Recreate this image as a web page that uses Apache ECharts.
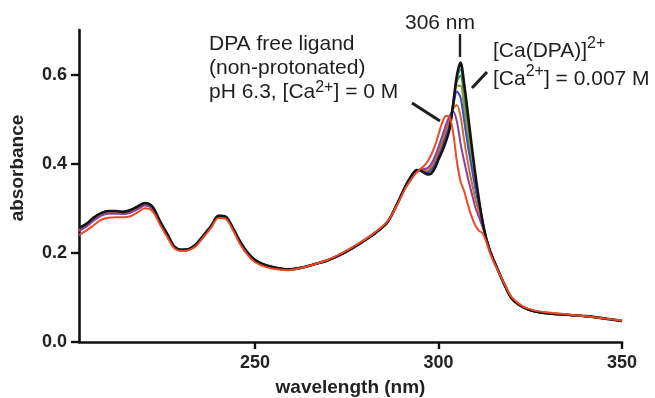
<!DOCTYPE html>
<html><head><meta charset="utf-8">
<script src="https://cdn.jsdelivr.net/npm/echarts@6/dist/echarts.min.js"></script>
<style>html,body{margin:0;padding:0;background:#fff}#c{width:655px;height:398px}</style>
</head><body><div id="c"></div>
<script>
// wavelength (nm)
const wavelengths = [202,204,206,208,210,212,214,216,218,220,222,224,226,228,230,232,234,236,238,240,242,244,246,248,250,253,256,259,262,266,270,274,278,282,286,289,291,293,294,295,296,297,298,299,300,301,302,303,304,305,306,307,308,309,310,311,312,313,314,315,316,318,320,323,326,330,335,340,345,350];

// absorbance of each spectrum, red = no Ca2+, black = 0.007 M Ca2+
const absRed = [0.240,0.250,0.262,0.274,0.279,0.280,0.280,0.282,0.291,0.300,
 0.294,0.265,0.236,0.210,0.204,0.206,0.216,0.236,0.256,0.278,
 0.276,0.250,0.218,0.195,0.179,0.168,0.163,0.161,0.165,0.174,
 0.185,0.201,0.220,0.242,0.270,0.312,0.345,0.370,0.380,0.388,
 0.395,0.405,0.420,0.440,0.466,0.492,0.507,0.505,0.468,0.405,
 0.360,0.338,0.308,0.282,0.262,0.250,0.244,0.225,0.200,0.180,
 0.163,0.130,0.100,0.080,0.071,0.066,0.062,0.058,0.053,0.048];
const absPurple = [0.249,0.259,0.272,0.283,0.288,0.288,0.287,0.290,0.298,0.306,
 0.299,0.268,0.239,0.212,0.205,0.207,0.218,0.238,0.258,0.281,
 0.279,0.253,0.221,0.198,0.182,0.170,0.164,0.162,0.165,0.174,
 0.184,0.200,0.219,0.241,0.269,0.314,0.348,0.374,0.383,0.387,
 0.388,0.390,0.400,0.416,0.438,0.462,0.487,0.507,0.517,0.495,
 0.445,0.405,0.368,0.335,0.303,0.280,0.258,0.232,0.205,0.184,
 0.165,0.129,0.098,0.079,0.070,0.065,0.061,0.058,0.053,0.047];
const absOrange = [0.252,0.262,0.275,0.286,0.291,0.291,0.290,0.293,0.301,0.309,
 0.301,0.270,0.241,0.213,0.206,0.208,0.219,0.239,0.259,0.282,
 0.280,0.254,0.222,0.199,0.183,0.171,0.165,0.162,0.165,0.174,
 0.184,0.199,0.218,0.240,0.268,0.314,0.349,0.376,0.384,0.386,
 0.385,0.385,0.393,0.408,0.428,0.451,0.475,0.500,0.524,0.532,
 0.505,0.452,0.402,0.360,0.322,0.292,0.264,0.233,0.205,0.184,
 0.165,0.128,0.097,0.078,0.069,0.064,0.061,0.058,0.053,0.047];
const absBlue = [0.254,0.263,0.277,0.287,0.292,0.292,0.291,0.294,0.302,0.310,
 0.302,0.271,0.242,0.213,0.206,0.208,0.219,0.239,0.259,0.282,
 0.280,0.254,0.223,0.199,0.183,0.171,0.165,0.162,0.165,0.174,
 0.184,0.199,0.218,0.240,0.268,0.315,0.350,0.377,0.385,0.386,
 0.383,0.381,0.387,0.400,0.420,0.442,0.465,0.492,0.530,0.562,
 0.548,0.495,0.440,0.392,0.345,0.305,0.268,0.233,0.205,0.184,
 0.165,0.128,0.097,0.078,0.069,0.064,0.061,0.058,0.053,0.047];
const absOlive = [0.255,0.264,0.278,0.288,0.293,0.293,0.291,0.295,0.303,0.311,
 0.303,0.271,0.242,0.214,0.207,0.209,0.220,0.240,0.260,0.283,
 0.281,0.255,0.224,0.200,0.184,0.172,0.166,0.163,0.166,0.174,
 0.184,0.199,0.218,0.240,0.268,0.315,0.350,0.378,0.386,0.385,
 0.381,0.378,0.383,0.396,0.415,0.436,0.458,0.485,0.533,0.575,
 0.575,0.522,0.462,0.405,0.355,0.310,0.269,0.232,0.205,0.184,
 0.165,0.128,0.097,0.078,0.069,0.064,0.061,0.058,0.053,0.047];
const absGreen = [0.255,0.265,0.278,0.288,0.293,0.293,0.292,0.295,0.303,0.311,
 0.303,0.272,0.243,0.214,0.207,0.209,0.220,0.240,0.260,0.283,
 0.281,0.255,0.224,0.200,0.184,0.172,0.166,0.163,0.166,0.174,
 0.184,0.199,0.218,0.240,0.268,0.315,0.350,0.378,0.386,0.385,
 0.381,0.377,0.382,0.394,0.413,0.433,0.455,0.482,0.534,0.585,
 0.598,0.545,0.482,0.418,0.362,0.314,0.270,0.232,0.205,0.184,
 0.165,0.128,0.097,0.078,0.069,0.064,0.061,0.058,0.053,0.047];
const absTeal = [0.256,0.265,0.279,0.289,0.294,0.294,0.292,0.296,0.304,0.312,
 0.304,0.272,0.243,0.214,0.207,0.209,0.220,0.240,0.260,0.283,
 0.281,0.255,0.224,0.200,0.184,0.172,0.166,0.163,0.166,0.174,
 0.184,0.199,0.218,0.240,0.268,0.315,0.350,0.378,0.386,0.385,
 0.380,0.376,0.381,0.393,0.411,0.431,0.452,0.480,0.535,0.592,
 0.612,0.562,0.497,0.430,0.370,0.317,0.270,0.232,0.205,0.184,
 0.165,0.128,0.097,0.078,0.069,0.064,0.061,0.058,0.053,0.047];
const absBlack = [0.256,0.265,0.279,0.289,0.294,0.294,0.292,0.296,0.304,0.312,
 0.304,0.272,0.243,0.214,0.207,0.209,0.220,0.240,0.260,0.283,
 0.281,0.255,0.224,0.200,0.184,0.172,0.166,0.163,0.166,0.174,
 0.184,0.199,0.218,0.240,0.268,0.315,0.350,0.378,0.386,0.385,
 0.380,0.376,0.378,0.390,0.410,0.428,0.450,0.478,0.535,0.598,
 0.627,0.578,0.512,0.443,0.378,0.320,0.270,0.232,0.205,0.184,
 0.165,0.128,0.097,0.078,0.069,0.064,0.061,0.058,0.053,0.047];

const xTicks = [250, 300, 350];
const yTicks = [0.0, 0.2, 0.4, 0.6];

const FONT = "'Liberation Sans', Arial, Helvetica, sans-serif";
const chart = echarts.init(document.getElementById('c'), null, {renderer: 'canvas'});

const spectra = [
  {d: absTeal, c: '#2e9c8c', w: 2},
  {d: absGreen, c: '#3b8f3f', w: 2},
  {d: absOlive, c: '#8f9b36', w: 2},
  {d: absBlue, c: '#3c4bc6', w: 2},
  {d: absOrange, c: '#c4702c', w: 2},
  {d: absPurple, c: '#8c3f9e', w: 2},
  {d: absBlack, c: '#141414', w: 2.6},
  {d: absRed, c: '#ea4a2a', w: 2}
];

const axisText = {fontFamily: FONT, fontWeight: 'bold', fontSize: 18, color: '#222'};
const TXT = '#1e1e1e';
const richMain = {
  n: {fontFamily: FONT, fontSize: 21, lineHeight: 26, fill: TXT, verticalAlign: 'bottom'},
  s: {fontFamily: FONT, fontSize: 16, lineHeight: 16, fill: TXT, verticalAlign: 'top'}
};

chart.setOption({
  backgroundColor: '#ffffff',
  animation: false,
  grid: {left: 79, right: 33, top: 30, bottom: 56, containLabel: false, outerBoundsMode: 'none'},
  xAxis: {
    type: 'value', min: 202, max: 350,
    name: 'wavelength (nm)', nameLocation: 'middle', nameGap: 36, nameMoveOverlap: false,
    nameTextStyle: {fontFamily: FONT, fontWeight: 'bold', fontSize: 19, color: '#222'},
    axisLine: {lineStyle: {color: '#111', width: 2.6}},
    axisTick: {show: true, length: 7, lineStyle: {color: '#111', width: 2.4}, customValues: xTicks},
    axisLabel: Object.assign({margin: 12, customValues: xTicks, formatter: v => String(v)}, axisText),
    splitLine: {show: false}
  },
  yAxis: {
    type: 'value', min: 0, max: 0.7,
    axisLine: {show: true, lineStyle: {color: '#111', width: 2.6}},
    axisTick: {show: true, length: 8, lineStyle: {color: '#111', width: 2.4}, customValues: yTicks},
    axisLabel: Object.assign({margin: 12, customValues: yTicks, formatter: v => Number(v).toFixed(1)}, axisText),
    splitLine: {show: false}
  },
  series: spectra.map(s => ({
    type: 'line', showSymbol: false, symbol: 'none', smooth: 0.3,
    lineStyle: {color: s.c, width: s.w},
    data: wavelengths.map((w, i) => [w, s.d[i]])
  })),
  graphic: [
    {type: 'text', x: 18, y: 168, rotation: Math.PI / 2,
     style: {text: 'absorbance', fontFamily: FONT, fontWeight: 'bold', fontSize: 19, fill: '#222', align: 'center', verticalAlign: 'middle'}},
    {type: 'text', x: 440, y: 23,
     style: {text: '306 nm', fontFamily: FONT, fontSize: 21, fill: TXT, align: 'center', verticalAlign: 'middle'}},
    {type: 'line', shape: {x1: 460, y1: 34, x2: 460, y2: 57}, style: {stroke: TXT, lineWidth: 2.4}},
    {type: 'text', x: 209, y: 32,
     style: {
       text: '{n|DPA free ligand}\n{n|(non-protonated)}\n{n|pH 6.3, [Ca}{s|2+}{n|] = 0 M}',
       fill: TXT, align: 'left', verticalAlign: 'top',
       rich: {
         n: {fontFamily: FONT, fontSize: 21, lineHeight: 24, fill: TXT},
         s: {fontFamily: FONT, fontSize: 16, lineHeight: 24, fill: TXT, verticalAlign: 'top'}
       }
     }},
    {type: 'text', x: 493, y: 36,
     style: {text: '{n|[Ca(DPA)]}{s|2+}', fill: TXT, align: 'left', verticalAlign: 'top', rich: richMain}},
    {type: 'text', x: 493, y: 64,
     style: {text: '{n|[Ca}{s|2+}{n|] = 0.007 M}', fill: TXT, align: 'left', verticalAlign: 'top', rich: richMain}},
    {type: 'line', shape: {x1: 487, y1: 72, x2: 472, y2: 88}, style: {stroke: TXT, lineWidth: 3}},
    {type: 'line', shape: {x1: 412, y1: 103, x2: 440, y2: 121}, style: {stroke: TXT, lineWidth: 3}}
  ]
});
</script>
</body></html>
